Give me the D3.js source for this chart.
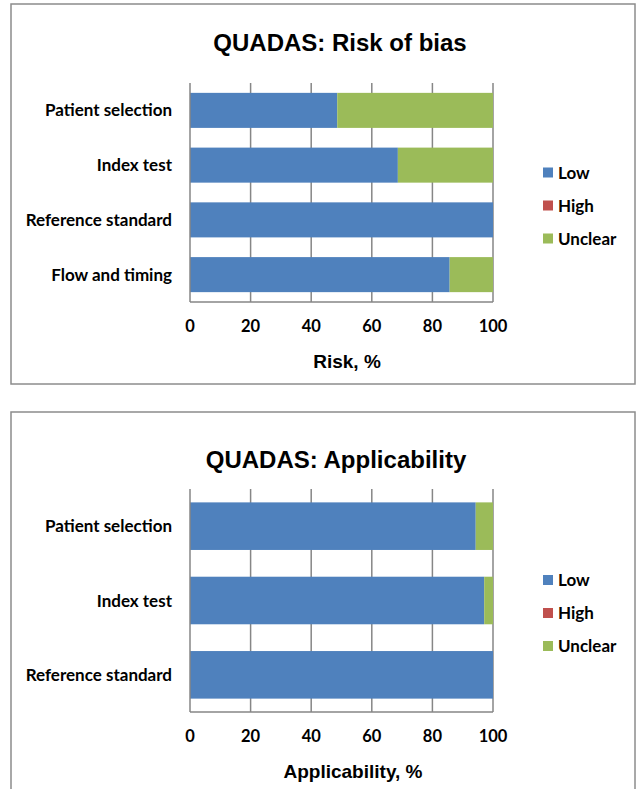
<!DOCTYPE html>
<html>
<head>
<meta charset="utf-8">
<script src="https://cdn.jsdelivr.net/npm/d3@7"></script>
<style>
  body { margin: 0; background: #fff; }
  svg { display: block; }
</style>
</head>
<body>
<svg id="chart" width="637" height="789"></svg>
<script>
// data (n = 35 studies)
const seriesNames = ['Low', 'High', 'Unclear'];
const seriesColors = ['#4f81bd', '#c0504d', '#9bbb59'];

const biasCategories = ['Patient selection', 'Index test', 'Reference standard', 'Flow and timing'];
const biasLow     = [48.6, 68.6, 100, 85.7];
const biasHigh    = [0, 0, 0, 0];
const biasUnclear = [51.4, 31.4, 0, 14.3];

const applCategories = ['Patient selection', 'Index test', 'Reference standard'];
const applLow     = [94.3, 97.1, 100];
const applHigh    = [0, 0, 0];
const applUnclear = [5.7, 2.9, 0];

const xTicks = [0, 20, 40, 60, 80, 100];

const svg = d3.select('#chart');
const grid = '#868686';

function drawPanel(o) {
    const g = svg.append('g');

    g.append('rect')
        .attr('x', 11).attr('y', o.boxTop)
        .attr('width', 624).attr('height', o.boxHeight)
        .attr('fill', '#fff').attr('stroke', '#8c8c8c').attr('stroke-width', 1.5);

    g.append('text')
        .attr('x', o.titleX).attr('y', o.titleY)
        .attr('text-anchor', 'middle')
        .style('font-family', '"Liberation Sans", Arial, sans-serif')
        .style('font-weight', 'bold').style('font-size', '24px')
        .text(o.title);

    const x = d3.scaleLinear().domain([0, 100]).range([190, 493]);
    const y = d3.scaleBand().domain(o.categories).range([o.plotTop, o.plotBottom])
        .paddingInner(0.36).paddingOuter(0.18);

    // vertical gridlines
    g.selectAll('.grid').data(xTicks.slice(1)).enter().append('line')
        .attr('x1', d => x(d)).attr('x2', d => x(d))
        .attr('y1', o.plotTop).attr('y2', o.plotBottom)
        .attr('stroke', grid).attr('stroke-width', 1.5);

    const rows = o.categories.map((c, i) => ({ cat: c, Low: o.low[i], High: o.high[i], Unclear: o.unclear[i] }));
    const stack = d3.stack().keys(seriesNames)(rows);

    g.selectAll('.series').data(stack).enter().append('g')
        .attr('fill', (d, i) => seriesColors[i])
        .selectAll('rect').data(d => d).enter().append('rect')
        .attr('x', d => x(d[0]))
        .attr('width', d => x(d[1]) - x(d[0]))
        .attr('y', d => y(d.data.cat))
        .attr('height', y.bandwidth());

    // axis lines
    g.append('line').attr('x1', x(0)).attr('x2', x(0))
        .attr('y1', o.plotTop).attr('y2', o.plotBottom)
        .attr('stroke', grid).attr('stroke-width', 1.5);
    g.append('line').attr('x1', x(0)).attr('x2', x(100))
        .attr('y1', o.plotBottom).attr('y2', o.plotBottom)
        .attr('stroke', grid).attr('stroke-width', 1.5);

    const labelFont = 'Lato, "Open Sans", sans-serif';

    g.selectAll('.cat').data(o.categories).enter().append('text')
        .attr('x', 172).attr('y', d => y(d) + y.bandwidth() / 2 + 6)
        .attr('text-anchor', 'end')
        .style('font-family', labelFont).style('font-weight', 'bold').style('font-size', '17px')
        .text(d => d);

    g.selectAll('.tick').data(xTicks).enter().append('text')
        .attr('x', d => x(d)).attr('y', o.plotBottom + 30)
        .attr('text-anchor', 'middle')
        .style('font-family', labelFont).style('font-weight', 'bold').style('font-size', '16.5px')
        .text(d => d);

    g.append('text')
        .attr('x', o.axisTitleX).attr('y', o.plotBottom + 66)
        .attr('text-anchor', 'middle')
        .style('font-family', '"Liberation Sans", Arial, sans-serif')
        .style('font-weight', 'bold').style('font-size', '19px')
        .text(o.axisTitle);

    // legend
    const leg = g.selectAll('.leg').data(seriesNames).enter().append('g')
        .attr('transform', (d, i) => `translate(543, ${o.legendY + i * 33})`);
    leg.append('rect').attr('x', 0).attr('y', -5).attr('width', 10).attr('height', 10)
        .attr('fill', (d, i) => seriesColors[i]);
    leg.append('text').attr('x', 15).attr('y', 6)
        .style('font-family', labelFont).style('font-weight', 'bold').style('font-size', '17px')
        .text(d => d);
}

drawPanel({
    title: 'QUADAS: Risk of bias', titleX: 340, titleY: 51,
    boxTop: 4, boxHeight: 380,
    categories: biasCategories, low: biasLow, high: biasHigh, unclear: biasUnclear,
    plotTop: 83, plotBottom: 302,
    axisTitle: 'Risk, %', axisTitleX: 347,
    legendY: 172.5
});

drawPanel({
    title: 'QUADAS: Applicability', titleX: 336, titleY: 468,
    boxTop: 412, boxHeight: 390,
    categories: applCategories, low: applLow, high: applHigh, unclear: applUnclear,
    plotTop: 489, plotBottom: 712,
    axisTitle: 'Applicability, %', axisTitleX: 353,
    legendY: 580
});
</script>
</body>
</html>
